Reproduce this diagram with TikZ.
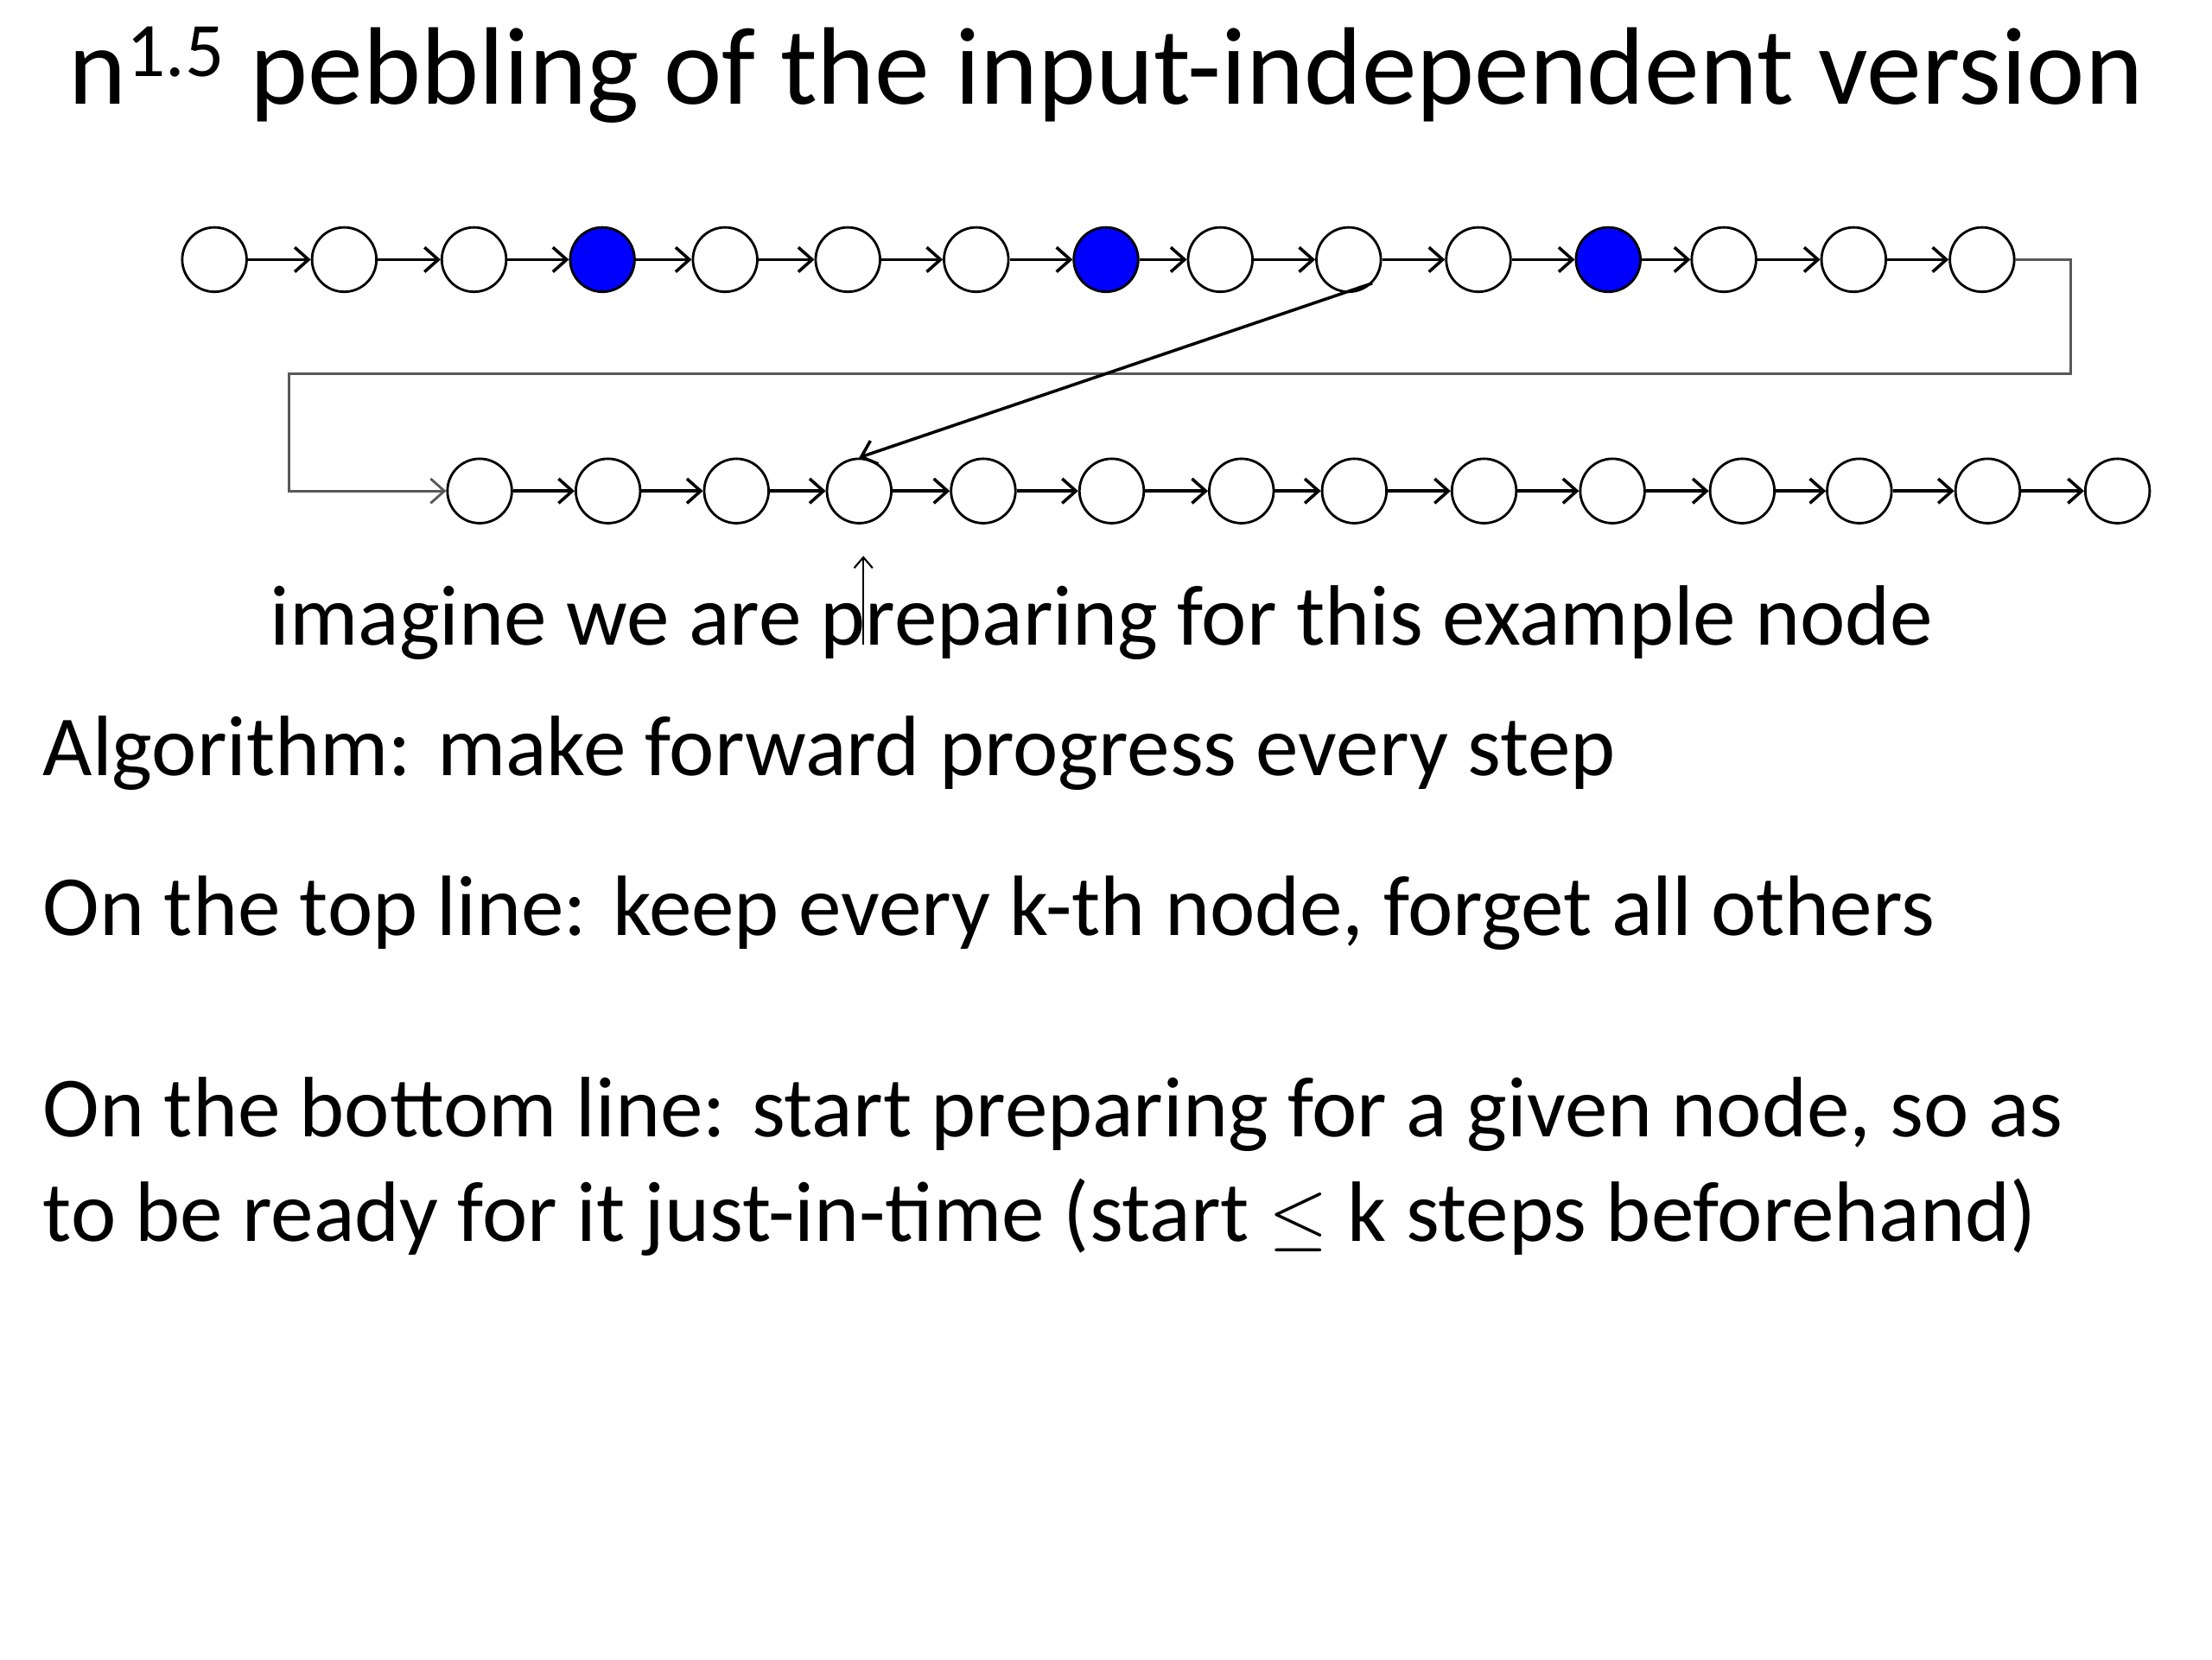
\documentclass[tikz,border=0pt]{standalone}
\usepackage{fontspec}
\setmainfont{Carlito}
\usetikzlibrary{arrows.meta, calc}
\definecolor{ckept}{HTML}{0000FF}
\definecolor{cwire}{HTML}{595959}
\tikzset{
  every picture/.style={font=\fontsize{28}{34}\selectfont},
  pebble/.style={circle, draw=black, fill=#1, line width=0.8pt, minimum size=0.74cm, inner sep=0pt},
  pebble/.default=white,
  arrow/.style={-{Straight Barb[length=4.5pt, width=8pt]}, line width=1pt},
  wire/.style={-{Straight Barb[length=4.5pt, width=8pt]}, draw=cwire, line width=0.8pt},
  pointer/.style={-{Straight Barb[length=3.5pt, width=6pt]}, line width=0.6pt},
  title/.style={font=\fontsize{36}{42}\selectfont, anchor=base, inner sep=0pt},
  note/.style={anchor=base west, inner sep=0pt},
}

\begin{document}
\begin{tikzpicture}[x=0.0162cm, y=-0.0162cm]
  \useasboundingbox (0,0) rectangle (1568,1176);
  \node[title] (title) at (784,74) {n\textsuperscript{1.5} pebbling of the input-independent version};
  % top line: every 4th node is kept
  \foreach \x/\c [count=\i] in {152/white, 244/white, 336/white, 427/ckept, 514/white, 601/white, 692/white, 784/ckept,
      865/white, 956/white, 1048/white, 1140/ckept, 1222/white, 1314/white, 1405/white} {
    \node[pebble=\c] (t\i) at (\x,184) {};
  }
  % bottom line
  \foreach \x [count=\i] in {340, 431, 522, 609, 697, 788, 880, 960, 1052, 1143, 1235, 1318, 1409, 1501} {
    \node[pebble] (b\i) at (\x,348) {};
  }
  \foreach \i [count=\j from 2] in {1,...,14} {
    \draw[arrow] (t\i) -- (t\j);
  }
  \foreach \i [count=\j from 2] in {1,...,13} {
    \draw[arrow] (b\i) -- (b\j);
  }
  \draw[wire] (t15.east) -- ++(39,0) |- (205,265) |- (b1.west);
  \draw[arrow] (t10.-45) -- (b4.north);
  \coordinate (mark) at (612,457);
  \coordinate (tip) at (612,394);
  \draw[pointer] (mark) -- (tip);
  \node[anchor=base] (example) at (781,457) {imagine we are preparing for this example node};
  \node[note] (algo) at (30,550) {Algorithm: make forward progress every step};
  \node[note] (top) at (30,663) {On the top line: keep every k-th node, forget all others};
  \node[note] (bottom1) at (30,806) {On the bottom line: start preparing for a given node, so as};
  \node[note] (bottom2) at (30,880) {to be ready for it just-in-time (start $\leq$ k steps beforehand)};
\end{tikzpicture}
\end{document}
